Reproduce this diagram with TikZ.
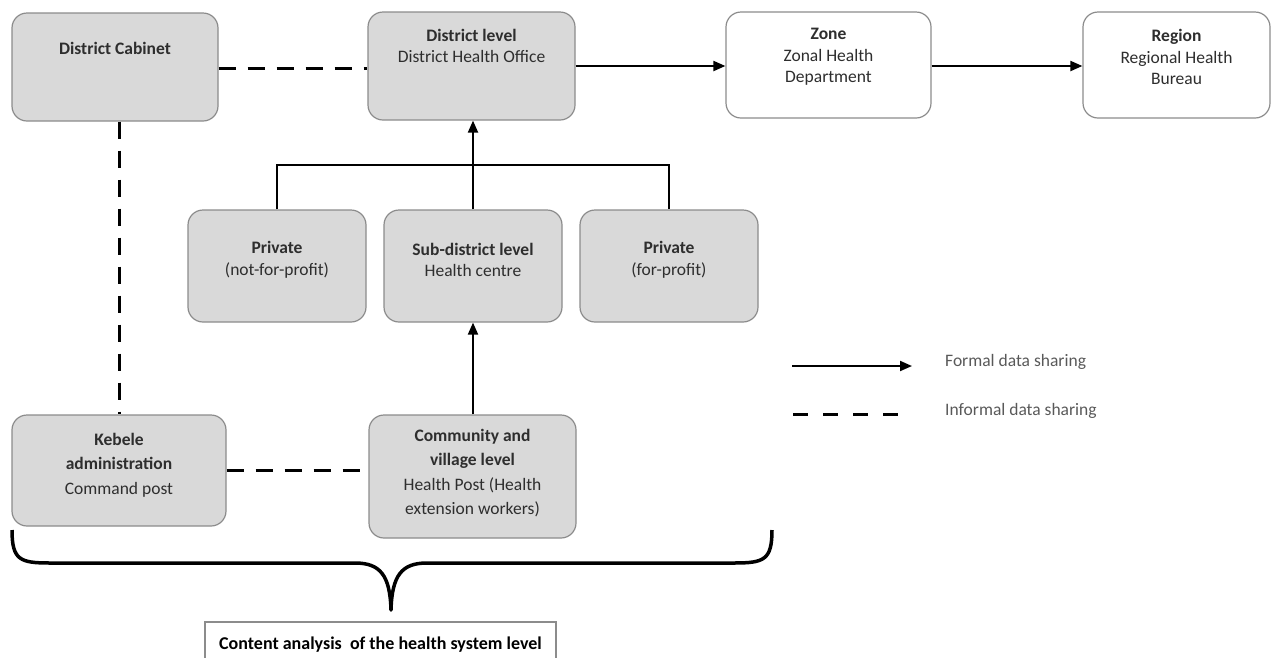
\documentclass[tikz,border=0pt]{standalone}
\usepackage{fontspec}
\setmainfont{Carlito}
\usetikzlibrary{arrows.meta}
\definecolor{boxfill}{HTML}{D9D9D9}
\definecolor{boxline}{HTML}{8C8C8C}
\definecolor{txt}{HTML}{2E2E2E}
\tikzset{
  box/.style={draw=boxline, line width=1.2pt, fill=boxfill, rounded corners=15pt, inner sep=0pt},
  wbox/.style={box, fill=white},
  lbl/.style={align=center, text=txt, font=\fontsize{17.5}{21.5}\selectfont, inner sep=0pt},
  lbltall/.style={lbl, font=\fontsize{17.5}{24.3}\selectfont},
  dashline/.style={line width=3pt, dash pattern=on 17pt off 12pt},
  solidline/.style={line width=2pt},
  arrowline/.style={solidline, -{Triangle[length=12pt,width=10pt]}},
}
\begin{document}
\begin{tikzpicture}[x=1pt,y=-1pt]
\useasboundingbox (0,0) rectangle (1278,657);
% boxes
\node[box, minimum width=206pt, minimum height=108pt] (dc) at (115,67) {};
\node[box, minimum width=207pt, minimum height=108pt] (dl) at (471.5,66) {};
\node[wbox, minimum width=205pt, minimum height=106pt] (zone) at (828.5,65) {};
\node[wbox, minimum width=187pt, minimum height=106pt] (reg) at (1176.5,65) {};
\node[box, minimum width=178pt, minimum height=112pt] (pnp) at (277,266) {};
\node[box, minimum width=178pt, minimum height=112pt] (sub) at (473,266) {};
\node[box, minimum width=178pt, minimum height=112pt] (pfp) at (669,266) {};
\node[box, minimum width=214pt, minimum height=111pt] (keb) at (119,470.5) {};
\node[box, minimum width=207pt, minimum height=123pt] (com) at (472.5,476.5) {};
\node[draw=boxline, line width=1.2pt, fill=white, minimum width=351pt, minimum height=60pt, inner sep=0pt] (cab) at (380.5,652) {};
% texts
\node[lbl, font=\bfseries\fontsize{17.5}{21.5}\selectfont] (tdc) at (115,48) {District Cabinet};
\node[lbl] (tdl) at (471.5,46) {\textbf{District level}\\District Health Office};
\node[lbl] (tzone) at (828.5,57) {\textbf{Zone}\\Zonal Health\\Department};
\node[lbl] (treg) at (1176.5,57) {\textbf{Region}\\Regional Health\\Bureau};
\node[lbl] (tpnp) at (277,260) {\textbf{Private}\\(not-for-profit)};
\node[lbl] (tsub) at (473,260) {\textbf{Sub-district level}\\Health centre};
\node[lbl] (tpfp) at (669,260) {\textbf{Private}\\(for-profit)};
\node[lbltall] (tkeb) at (119,465) {\textbf{Kebele}\\\textbf{administration}\\Command post};
\node[lbltall] (tcom) at (472.5,473) {\textbf{Community and}\\\textbf{village level}\\Health Post (Health\\extension workers)};
\node[lbl, text=black, font=\bfseries\fontsize{18}{22}\selectfont] (tcab) at (380.5,645) {Content analysis\ \ of the health system level};
% connectors
\draw[dashline] (dc.east |- 0,68) -- (dl.west |- 0,68);
\draw[dashline] (keb.north |- dc.south) -- (keb.north);
\draw[dashline] (keb.east |- 0,470) -- (com.west |- 0,470);
\draw[arrowline] (dl.east |- 0,66) -- (zone.west |- 0,66);
\draw[arrowline] (zone.east |- 0,66) -- (reg.west |- 0,66);
\coordinate (j) at (473,165);
\draw[solidline] (pnp.north) |- (j) -| (pfp.north);
\draw[arrowline] (sub.north) -- (sub.north |- dl.south);
\draw[arrowline] (com.north -| sub.south) -- (sub.south);
% brace
\draw[line width=3.5pt, line join=round] (12,530) .. controls (12,560) and (20,563) .. (50,563)
  -- (355,563) .. controls (380,563) and (390,575) .. (391,610)
  .. controls (392,575) and (402,563) .. (427,563)
  -- (734,563) .. controls (764,563) and (772,560) .. (772,530);
% legend
\coordinate (f1) at (792,366); \coordinate (f2) at (912,366);
\draw[arrowline] (f1) -- (f2);
\coordinate (i1) at (793,414); \coordinate (i2) at (900,414);
\draw[dashline, dash pattern=on 15pt off 15pt] (i1) -- (i2);
\node[lbl, anchor=west, text=black!65, font=\fontsize{17.5}{20}\selectfont] (lf) at (945,362) {Formal data sharing};
\node[lbl, anchor=west, text=black!65, font=\fontsize{17.5}{20}\selectfont] (li) at (945,411) {Informal data sharing};
\end{tikzpicture}
\end{document}
